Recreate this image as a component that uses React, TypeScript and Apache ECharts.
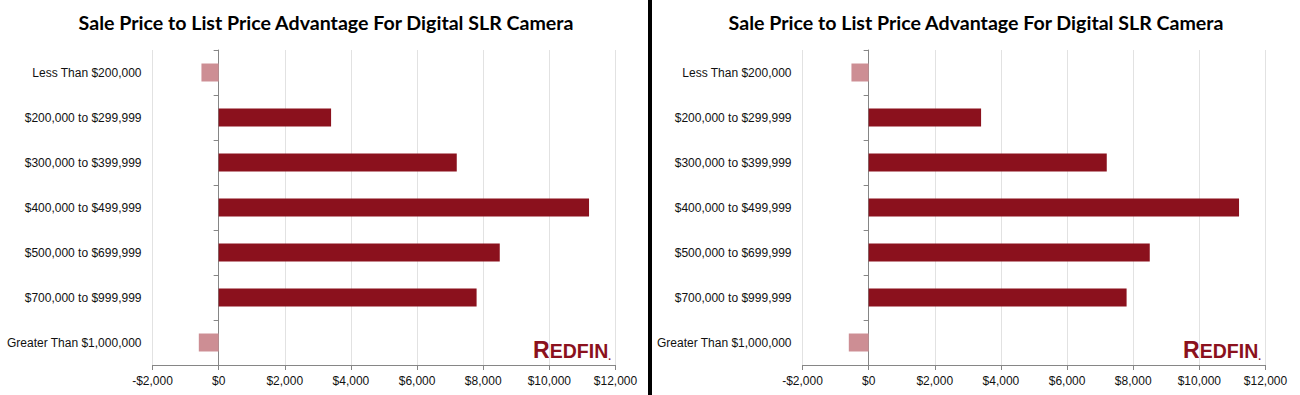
import React, { useEffect, useRef } from "react";
import * as echarts from "echarts";

const titleText = "Sale Price to List Price Advantage For Digital SLR Camera";
const categories = [
  "Less Than $200,000",
  "$200,000 to $299,999",
  "$300,000 to $399,999",
  "$400,000 to $499,999",
  "$500,000 to $699,999",
  "$700,000 to $999,999",
  "Greater Than $1,000,000",
];
const values = [-520, 3400, 7200, 11200, 8500, 7800, -600];
const xMin = -2000;
const xMax = 12000;
const xInterval = 2000;

const DARK = "#8B111D";
const LIGHT = "#CD8E94";

const panelOffsets = [0, 650];
const gridLeft = 152.5;
const gridWidth = 463;
const gridTop = 50;
const gridHeight = 315;

function fmtMoney(v: number) {
  const s = Math.abs(v).toLocaleString("en-US");
  return (v < 0 ? "-$" : "$") + s;
}

export default function App() {
  const ref = useRef<HTMLDivElement>(null);
  useEffect(() => {
    if (!ref.current) return;
    const chart = echarts.init(ref.current, undefined, { renderer: "svg" });
    const zeroOffset = ((0 - xMin) / (xMax - xMin)) * gridWidth;

    const grids: any[] = [];
    const xAxes: any[] = [];
    const yAxes: any[] = [];
    const series: any[] = [];
    const graphics: any[] = [];

    panelOffsets.forEach((off, i) => {
      grids.push({ left: gridLeft + off, top: gridTop, width: gridWidth, height: gridHeight });
      xAxes.push({
        type: "value",
        gridIndex: i,
        min: xMin,
        max: xMax,
        interval: xInterval,
        axisLine: { show: true, onZero: false, lineStyle: { color: "#868686", width: 1 } },
        axisTick: { show: true, length: 5, lineStyle: { color: "#868686" } },
        axisLabel: {
          formatter: (v: number) => fmtMoney(v),
          fontSize: 12,
          color: "#111",
          fontFamily: "'Liberation Sans', Arial, sans-serif",
          margin: 10,
        },
        splitLine: { show: true, lineStyle: { color: "#e2e2e2", width: 1 } },
      });
      yAxes.push({
        type: "category",
        gridIndex: i,
        data: categories,
        inverse: true,
        position: "left",
        axisLine: { show: false },
        axisTick: { show: false },
        axisLabel: {
          fontSize: 12,
          color: "#111",
          fontFamily: "'Liberation Sans', Arial, sans-serif",
          margin: 11,
        },
        splitLine: { show: false },
      });
      yAxes.push({
        type: "category",
        gridIndex: i,
        data: categories,
        inverse: true,
        position: "left",
        offset: -zeroOffset,
        axisLine: { show: true, onZero: false, lineStyle: { color: "#868686", width: 1 } },
        axisTick: { show: true, length: 5, lineStyle: { color: "#868686" } },
        axisLabel: { show: false },
        splitLine: { show: false },
      });
      series.push({
        type: "bar",
        xAxisIndex: i,
        yAxisIndex: i * 2,
        barWidth: 18,
        data: values.map((v) => ({ value: v, itemStyle: { color: v < 0 ? LIGHT : DARK } })),
      });
      graphics.push({
        type: "text",
        x: 326 + off,
        y: 22,
        style: {
          text: titleText,
          fill: "#000",
          font: "bold 19.6px Lato, 'Open Sans', sans-serif",
          textAlign: "center",
          textVerticalAlign: "middle",
        },
      });
      graphics.push({
        type: "text",
        x: 611 + off,
        y: 361,
        style: {
          text: "{r|R}{e|EDFIN}{d|.}",
          align: "right",
          verticalAlign: "bottom",
          rich: {
            r: {
              fill: DARK,
              fontSize: 23,
              fontWeight: "bold",
              fontFamily: "'Liberation Sans', Arial, sans-serif",
              verticalAlign: "bottom",
              lineHeight: 24,
            },
            e: {
              fill: DARK,
              fontSize: 19.5,
              fontWeight: "bold",
              fontFamily: "'Liberation Sans', Arial, sans-serif",
              verticalAlign: "bottom",
              lineHeight: 24,
            },
            d: {
              fill: DARK,
              fontSize: 10,
              fontWeight: "bold",
              fontFamily: "'Liberation Sans', Arial, sans-serif",
              verticalAlign: "bottom",
              lineHeight: 24,
            },
          },
        },
      });
    });

    graphics.push({
      type: "rect",
      shape: { x: 648, y: 0, width: 4, height: 395 },
      style: { fill: "#000" },
    });

    chart.setOption({
      animation: false,
      backgroundColor: "#fff",
      grid: grids,
      xAxis: xAxes,
      yAxis: yAxes,
      series,
      graphic: graphics,
    });
    return () => chart.dispose();
  }, []);
  return (
    <div
      ref={ref}
      style={{ position: "absolute", left: 0, top: 0, width: 1300, height: 395 }}
    />
  );
}
